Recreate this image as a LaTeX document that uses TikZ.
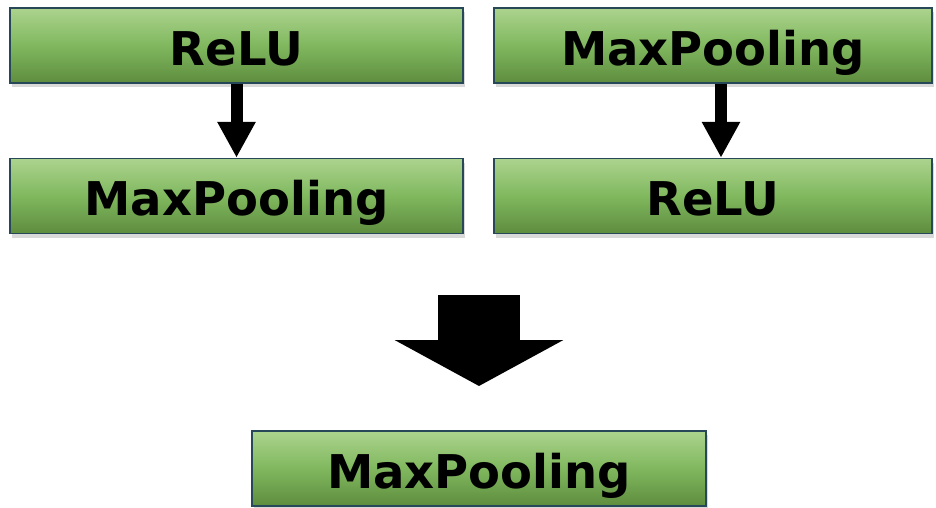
\documentclass[tikz,border=0pt]{standalone}
\usepackage{fontspec}
\setmainfont{DejaVu Sans}
\usetikzlibrary{arrows.meta,shadows}

\definecolor{boxtop}{RGB}{172,211,142}
\definecolor{boxmid}{RGB}{128,184,94}
\definecolor{boxbot}{RGB}{94,140,62}
\definecolor{boxedge}{RGB}{38,72,88}

\begin{document}
\begin{tikzpicture}[x=1pt,y=-1pt,
    layer/.style={draw=boxedge, line width=1.5pt,
        top color=boxtop, bottom color=boxbot, middle color=boxmid,
        drop shadow={shadow xshift=2pt, shadow yshift=-4pt, opacity=0.3},
        minimum height=75pt, inner sep=0pt, text height=39pt, text depth=0pt,
        font=\fontsize{46.5}{50}\selectfont\bfseries},
    flow/.style={line width=12pt, -{Triangle[width=36pt,length=36pt]}}]

    \useasboundingbox (0,0) rectangle (936,507);

    \node[layer, minimum width=453pt] (relu1) at (236.5,45.5) {ReLU};
    \node[layer, minimum width=438pt] (pool1) at (713,45.5) {MaxPooling};

    \node[layer, minimum width=453pt] (pool2) at (236.5,196) {MaxPooling};
    \node[layer, minimum width=438pt] (relu2) at (713,196) {ReLU};

    \node[layer, minimum width=454pt] (result) at (479,468.5) {MaxPooling};

    \draw[flow] (relu1.south) -- (pool2.north);
    \draw[flow] ([xshift=8pt]pool1.south) -- ([xshift=8pt]relu2.north);

    \coordinate (bigtail) at (479,295);
    \coordinate (bigtip) at (479,386);
    \draw[line width=82pt, -{Triangle[width=167pt,length=46pt]}] (bigtail) -- (bigtip);

\end{tikzpicture}
\end{document}
